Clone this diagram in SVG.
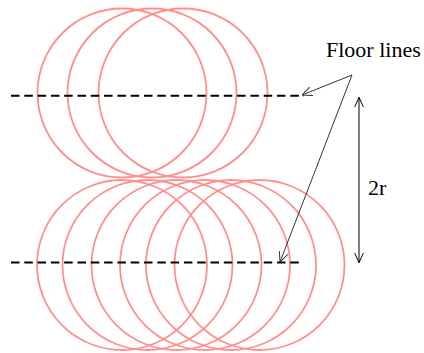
<svg xmlns="http://www.w3.org/2000/svg" width="424" height="353" viewBox="0 0 424 353">
<defs>
<style>
.c{fill:none;stroke:#ff8e8e;stroke-width:1.8}
.d{fill:none;stroke:#000;stroke-width:2;stroke-dasharray:8.5 4.8}
.a{fill:none;stroke:#333;stroke-width:1}
.t{font-family:"Liberation Serif","Times New Roman",serif;font-size:22px;fill:#000}
</style>
<marker id="ah" viewBox="0 0 10 10" refX="10" refY="5" markerWidth="10" markerHeight="10" markerUnits="userSpaceOnUse" orient="auto">
<path d="M0,0.5 L10,5 L0,9.5" fill="none" stroke="#333" stroke-width="1"/>
</marker>
<marker id="ak" viewBox="0 0 10 10" refX="10" refY="5" markerWidth="10" markerHeight="10" markerUnits="userSpaceOnUse" orient="auto-start-reverse">
<path d="M0,0.5 L10,5 L0,9.5" fill="none" stroke="#000" stroke-width="1"/>
</marker>
</defs>
<g id="top-circles">
<circle class="c" cx="122" cy="93" r="84.5"/>
<circle class="c" cx="152" cy="93" r="84.5"/>
<circle class="c" cx="183" cy="93" r="84.5"/>
</g>
<g id="bottom-circles">
<circle class="c" cx="122" cy="265" r="85"/>
<circle class="c" cx="147.5" cy="265" r="85"/>
<circle class="c" cx="176.5" cy="265" r="85"/>
<circle class="c" cx="205" cy="265" r="85"/>
<circle class="c" cx="231" cy="265" r="85"/>
<circle class="c" cx="259.5" cy="265" r="85"/>
</g>
<g id="floor-top"><line class="d" x1="11" y1="95.7" x2="304" y2="95.7"/></g>
<g id="floor-bottom"><line class="d" x1="11" y1="262.5" x2="302" y2="262.5"/></g>
<g id="connectors">
<line class="a" x1="352" y1="75" x2="302" y2="95" marker-end="url(#ah)"/>
<line class="a" x1="352" y1="75" x2="280" y2="262" marker-end="url(#ah)"/>
<line x1="359" y1="97.3" x2="359" y2="262.7" stroke="#000" stroke-width="1" marker-start="url(#ak)" marker-end="url(#ak)"/>
</g>
<g id="label-floor"><text class="t" x="326" y="57">Floor lines</text></g>
<g id="label-2r"><text class="t" x="368" y="195">2r</text></g>
</svg>
